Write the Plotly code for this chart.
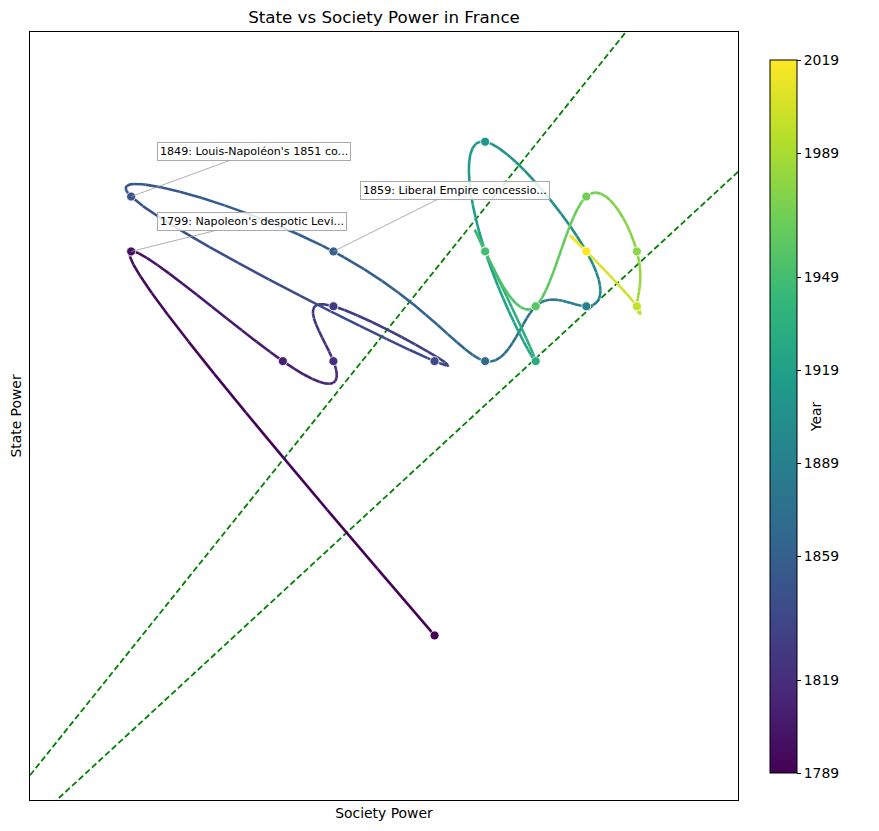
import numpy as np
import plotly.graph_objects as go
from plotly.colors import sample_colorscale

# ---------------- data ----------------
years = list(range(1789, 2020, 10))
society_power = [11, 5, 8, 9, 9, 11, 5, 9, 12, 13, 14, 14, 12, 12, 13, 12, 12, 13, 14, 15, 15, 15, 14, 14]
state_power = [6, 13, 11, 11, 12, 11, 14, 13, 11, 12, 12, 13, 15, 13, 11, 13, 13, 12, 14, 13, 12, 12, 13, 13]

annot_years = [1849, 1859, 1799]
annot_texts = ["1849: Louis-Napoléon's 1851 co...",
               "1859: Liberal Empire concessio...",
               "1799: Napoleon's despotic Levi..."]

corridor_slopes = [1.15, 0.85]
cbar_ticks = [1789, 1819, 1859, 1889, 1919, 1949, 1989, 2019]

FONT = "DejaVu Sans"


def spline_nak(t, y, tt):
    """Cubic spline with not-a-knot end conditions."""
    t = np.asarray(t, float)
    y = np.asarray(y, float)
    n = len(t)
    h = np.diff(t)
    A = np.zeros((n, n))
    r = np.zeros(n)
    for i in range(1, n - 1):
        A[i, i - 1] = h[i - 1]
        A[i, i] = 2 * (h[i - 1] + h[i])
        A[i, i + 1] = h[i]
        r[i] = 6 * ((y[i + 1] - y[i]) / h[i] - (y[i] - y[i - 1]) / h[i - 1])
    A[0, 0] = -h[1]
    A[0, 1] = h[0] + h[1]
    A[0, 2] = -h[0]
    A[-1, -3] = -h[-1]
    A[-1, -2] = h[-2] + h[-1]
    A[-1, -1] = -h[-2]
    M = np.linalg.solve(A, r)
    idx = np.clip(np.searchsorted(t, tt, side="right") - 1, 0, n - 2)
    t0, t1 = t[idx], t[idx + 1]
    hh = t1 - t0
    return (M[idx] * (t1 - tt) ** 3 / (6 * hh) + M[idx + 1] * (tt - t0) ** 3 / (6 * hh)
            + (y[idx] / hh - M[idx] * hh / 6) * (t1 - tt)
            + (y[idx + 1] / hh - M[idx + 1] * hh / 6) * (tt - t0))


ymin, ymax = min(years), max(years)
tt = np.linspace(ymin, ymax, 2301)
xs = spline_nak(years, society_power, tt)
ys = spline_nak(years, state_power, tt)

lo = min(min(society_power), min(state_power)) - 2
hi = max(max(society_power), max(state_power)) + 2

fig = go.Figure()

# corridor lines
lx = np.array([lo - 1, hi + 1])
for s in corridor_slopes:
    fig.add_trace(go.Scatter(x=lx, y=s * lx, mode="lines",
                             line=dict(color="green", width=1.8, dash="6px,3px"),
                             hoverinfo="skip", showlegend=False))

# colour-graded trajectory
step = 8
for k in range(0, len(tt) - 1, step):
    sl = slice(k, min(k + step + 1, len(tt)))
    mid = tt[min(k + step // 2, len(tt) - 1)]
    col = sample_colorscale("Viridis", [(mid - ymin) / (ymax - ymin)])[0]
    fig.add_trace(go.Scatter(x=xs[sl], y=ys[sl], mode="lines",
                             line=dict(color=col, width=2.6),
                             hoverinfo="skip", showlegend=False))

# markers + colourbar
fig.add_trace(go.Scatter(
    x=society_power, y=state_power, mode="markers", showlegend=False,
    text=[str(y) for y in years],
    marker=dict(size=9, color=years, colorscale="Viridis", cmin=ymin, cmax=ymax,
                line=dict(color="white", width=0.8),
                colorbar=dict(
                    x=1.045, xanchor="left", xpad=0, y=0.4993, yanchor="middle", ypad=0,
                    len=0.928, thickness=27, outlinewidth=1, outlinecolor="black",
                    tickvals=cbar_ticks, ticks="outside", ticklen=4, tickcolor="black",
                    tickfont=dict(family=FONT, size=13.9, color="black"),
                    title=dict(text="Year", side="right",
                               font=dict(family=FONT, size=13.9, color="black")),
                )),
))

# annotations
offsets = [(123, -45), (122, -61), (121, -30)]
for yr, txt, (ax, ay) in zip(annot_years, annot_texts, offsets):
    i = years.index(yr)
    fig.add_annotation(x=society_power[i], y=state_power[i], text=txt,
                       showarrow=True, arrowhead=0, arrowwidth=0.8, arrowcolor="#9a9a9a",
                       ax=ax, ay=ay, font=dict(family=FONT, size=11.1, color="black"),
                       bgcolor="rgba(255,255,255,0.85)", bordercolor="#aaaaaa",
                       borderwidth=1, borderpad=2)

axis_common = dict(range=[lo, hi], showticklabels=False, ticks="", showgrid=False,
                   zeroline=False, showline=True, mirror=True, linecolor="black",
                   linewidth=1)
fig.update_layout(
    width=879, height=831,
    margin=dict(l=30, r=141, t=32, b=31),
    plot_bgcolor="white", paper_bgcolor="white",
    font=dict(family=FONT, color="black"),
    title=dict(text="State vs Society Power in France", x=384 / 879, xanchor="center",
               y=1 - 17 / 831, yanchor="middle", yref="container",
               font=dict(family=FONT, size=16.7, color="black")),
    xaxis=dict(**axis_common, title=dict(text="Society Power", standoff=8,
                                         font=dict(family=FONT, size=13.9))),
    yaxis=dict(**axis_common, title=dict(text="State Power", standoff=4,
                                         font=dict(family=FONT, size=13.9))),
)
fig.update_xaxes(automargin=False)
fig.update_yaxes(automargin=False)

fig.write_html("out.html")
